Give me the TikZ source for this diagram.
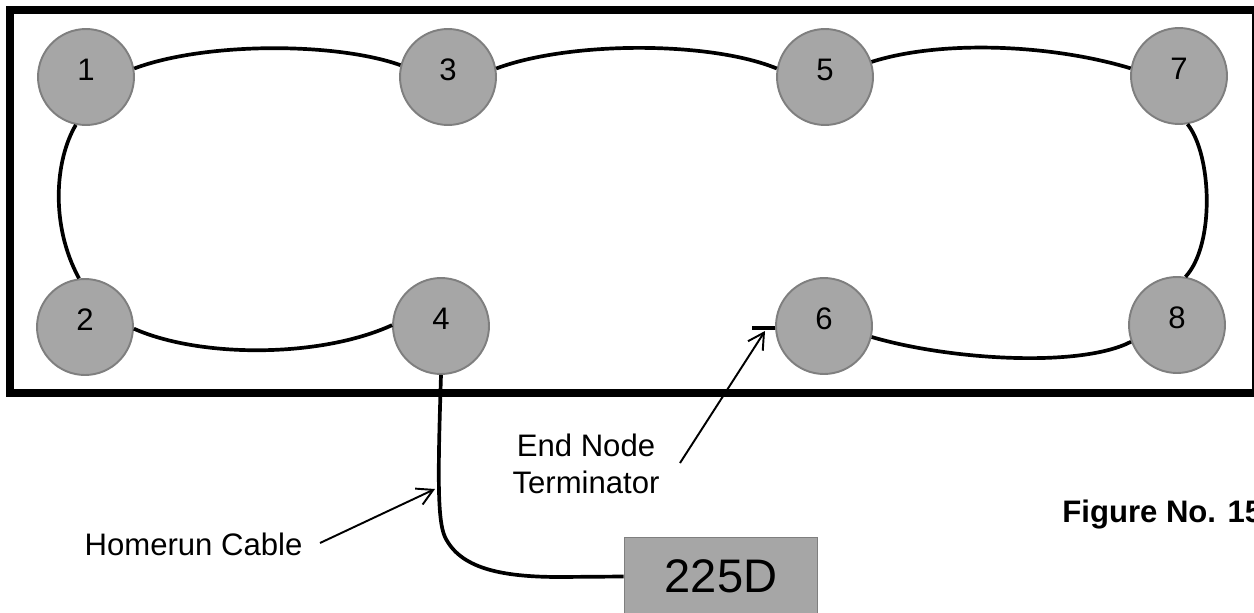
\documentclass[tikz,border=0pt]{standalone}
\usepackage{fontspec}
\setmainfont{Liberation Sans}
\usetikzlibrary{arrows.meta}
\definecolor{nodegray}{HTML}{A6A6A6}
\definecolor{edgegray}{HTML}{7F7F7F}
\tikzset{
  dev/.style={circle, draw=edgegray, fill=nodegray, line width=1.1pt,
    minimum size=1.92cm, inner sep=0pt, font=\fontsize{17.7}{21}\selectfont, text depth=8pt},
  cable/.style={line width=2.1pt, draw=black},
  frame/.style={line width=4.5pt, draw=black, line join=miter},
  pointer/.style={line width=1.1pt, -{Straight Barb[length=9pt,width=10pt]}},
  lbl/.style={font=\fontsize{17.7}{21}\selectfont, inner sep=0pt},
  ctrl/.style={rectangle, draw=edgegray, fill=nodegray, line width=1.1pt,
    minimum width=3.86cm, minimum height=1.56cm, inner sep=0pt, font=\fontsize{26.8}{30}\selectfont}
}
\begin{document}
\begin{tikzpicture}[x=0.02cm, y=-0.02cm]
\clip (0,0) rectangle (1254,612);
\fill[white] (0,0) rectangle (1254,612);
% frame
\draw[frame] (10,10) rectangle (1256,393);
% devices
\node[dev] (n1) at (86,77) {1};
\node[dev] (n3) at (448,77) {3};
\node[dev] (n5) at (825,77) {5};
\node[dev] (n7) at (1179,76) {7};
\node[dev] (n2) at (85,327) {2};
\node[dev] (n4) at (441,326) {4};
\node[dev] (n6) at (824,326) {6};
\node[dev] (n8) at (1177,325) {8};
% controller
\node[ctrl] (box) at (721,576.5) {225D};
% loop wiring
\draw[cable] (n1.10) .. controls (205,42) and (335,42) .. (n3.166);
\draw[cable] (n3.10) .. controls (570,41) and (710,41) .. (n5.170);
\draw[cable] (n5.18) .. controls (940,40) and (1050,44) .. (n7.171);
\draw[cable] (n7.280) .. controls (1212,155) and (1215,245) .. (n8.80);
\draw[cable] (n1.258) .. controls (55,160) and (50,225) .. (n2.97);
\draw[cable] (n2.-2) .. controls (200,358) and (320,358) .. (n4.179);
\draw[cable] (n6.-13) .. controls (950,360) and (1080,368) .. (n8.200);
% terminator
\coordinate (term) at (752,328);
\draw[cable] (term) -- (term -| n6.west);
% homerun cable
\draw[cable] (n4.south) .. controls (438,470) and (437,520) .. (445,537)
  .. controls (460,568) and (500,577) .. (560,577) -- (box.west);
% labels
\node[lbl] (home) at (193.5,544) {Homerun Cable};
\node[lbl, align=center] (endtxt) at (586,464) {End Node\\Terminator};
\node[lbl, anchor=base west, font=\fontsize{17.7}{21}\selectfont\bfseries] (fig) at (1062,522) {Figure No. 15};
% pointers
\coordinate (homefrom) at (320,543);
\coordinate (hometo) at (435,489);
\draw[pointer] (homefrom) -- (hometo);
\coordinate (endfrom) at (680,463);
\coordinate (endto) at (765,331);
\draw[pointer] (endfrom) -- (endto);
\end{tikzpicture}
\end{document}
